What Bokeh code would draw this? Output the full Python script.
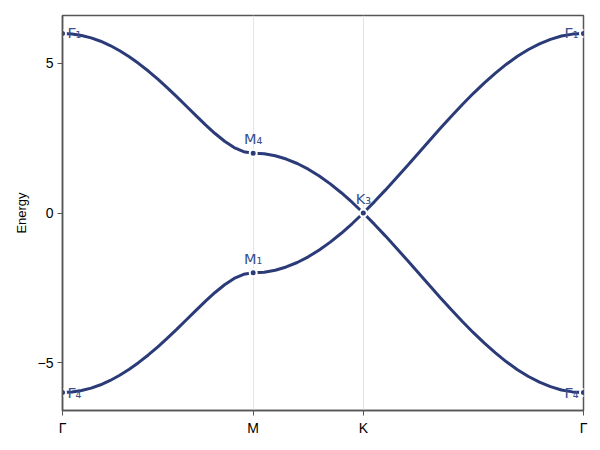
from bokeh.plotting import figure
from bokeh.models import FixedTicker, ColumnDataSource, Range1d
from bokeh.core.properties import value
from bokeh.embed import file_html
from bokeh.resources import INLINE
import numpy as np

# path nodes Γ - M - K - Γ (distance along k-path)
node_pos = [0.0, 1.0, 1.5774, 2.7321]
node_names = ["Γ", "M", "K", "Γ"]

# upper band, segment by segment
e_gm = [6.000, 5.984, 5.934, 5.853, 5.740, 5.596, 5.423, 5.222, 4.994, 4.744, 4.472,
        4.183, 3.880, 3.569, 3.255, 2.947, 2.656, 2.397, 2.187, 2.049, 2.000]
e_mk = [1.978, 1.913, 1.804, 1.654, 1.464, 1.236, 0.973, 0.677, 0.351, 0.000]
e_kg = [0.373, 0.764, 1.168, 1.582, 2.000, 2.418, 2.832, 3.236, 3.627, 4.000,
        4.351, 4.677, 4.973, 5.236, 5.464, 5.654, 5.804, 5.913, 5.978, 6.000]
# lower band
l_gm = [-6.000, -5.984, -5.934, -5.853, -5.740, -5.596, -5.423, -5.222, -4.994, -4.744, -4.472,
        -4.183, -3.880, -3.569, -3.255, -2.947, -2.656, -2.397, -2.187, -2.049, -2.000]
l_mk = [-1.978, -1.913, -1.804, -1.654, -1.464, -1.236, -0.973, -0.677, -0.351, 0.000]
l_kg = [-0.373, -0.764, -1.168, -1.582, -2.000, -2.418, -2.832, -3.236, -3.627, -4.000,
        -4.351, -4.677, -4.973, -5.236, -5.464, -5.654, -5.804, -5.913, -5.978, -6.000]

# high-symmetry point irreps
hs_x = [0.0, 0.0, 1.0, 1.0, 1.5774, 2.7321, 2.7321]
hs_e = [6.0, -6.0, 2.0, -2.0, 0.0, 6.0, -6.0]
hs_lab = ["Γ₁", "Γ₄", "M₄", "M₁", "K₃", "Γ₁", "Γ₄"]

# k grid along each segment
k = np.concatenate([
    np.linspace(node_pos[0], node_pos[1], len(e_gm)),
    np.linspace(node_pos[1], node_pos[2], len(e_mk) + 1)[1:],
    np.linspace(node_pos[2], node_pos[3], len(e_kg) + 1)[1:],
])
upper = e_gm + e_mk + e_kg
lower = l_gm + l_mk + l_kg

navy = "#2b3b78"
labc = "#3a4f8e"
font = "Liberation Sans"

p = figure(width=600, height=450, output_backend="svg", toolbar_location=None,
           x_range=Range1d(0, node_pos[-1]), y_range=Range1d(-6.6, 6.6),
           min_border_left=62, min_border_right=17, min_border_top=15, min_border_bottom=40)

p.line(k, upper, color=navy, line_width=3)
p.line(k, lower, color=navy, line_width=3)

src = ColumnDataSource(dict(x=hs_x, y=hs_e, t=hs_lab))
p.scatter("x", "y", source=src, size=7, fill_color=navy, line_color="white", line_width=2)

# labels: left side, right side, middle
left = ColumnDataSource(dict(x=hs_x[:2], y=hs_e[:2], t=hs_lab[:2]))
right = ColumnDataSource(dict(x=hs_x[5:], y=hs_e[5:], t=hs_lab[5:]))
mid = ColumnDataSource(dict(x=hs_x[2:5], y=hs_e[2:5], t=hs_lab[2:5]))
for s, align, xo, yo, base in [(left, "left", 5, 0, "middle"), (right, "right", -5, 0, "middle"),
                               (mid, "center", 0, -6, "bottom")]:
    p.text("x", "y", text="t", source=s, text_align=align, text_baseline=base,
           x_offset=xo, y_offset=yo, text_color=labc, text_font=value("DejaVu Sans"),
           text_font_size="14.5px")

p.xaxis.ticker = FixedTicker(ticks=node_pos)
p.xaxis.major_label_overrides = {node_pos[i]: node_names[i] for i in range(4)}
p.yaxis.ticker = FixedTicker(ticks=[-5, 0, 5])
p.yaxis.major_label_overrides = {-5: "−5", 0: "0", 5: "5"}
p.yaxis.axis_label = "Energy"

for ax in [p.xaxis[0], p.yaxis[0]]:
    ax.axis_line_color = "#555555"
    ax.axis_line_width = 1.5
    ax.major_tick_in = 0
    ax.major_tick_out = 5
    ax.major_tick_line_color = "#555555"
    ax.minor_tick_line_color = None
    ax.major_label_text_font = font
    ax.major_label_text_font_size = "14px"
    ax.major_label_text_color = "black"
    ax.axis_label_text_font = font
    ax.axis_label_text_font_size = "13px"
    ax.axis_label_text_font_style = "normal"
    ax.axis_label_text_color = "black"
    ax.major_label_standoff = 4
p.yaxis.axis_label_standoff = 6

p.ygrid.grid_line_color = None
p.xgrid.ticker = FixedTicker(ticks=node_pos)
p.xgrid.grid_line_color = "#e4e4e4"
p.xgrid.grid_line_width = 1
p.outline_line_color = "#555555"
p.outline_line_width = 1.5

open("out.html", "w").write(file_html(p, INLINE))
